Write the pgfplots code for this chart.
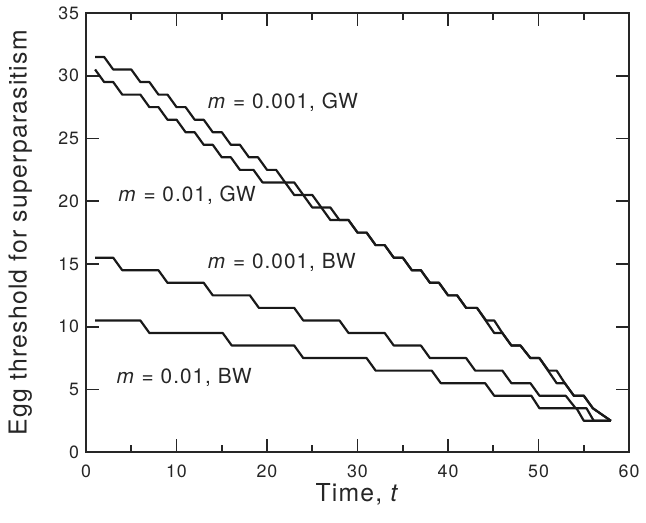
\documentclass[border=0pt]{standalone}
\usepackage{fontspec}
\setmainfont[LetterSpace=5]{TeX Gyre Heros}
\usepackage{pgfplots}
\pgfplotsset{compat=1.18}
\pgfplotsset{major tick length=6.5pt, minor tick length=3.5pt}
\usetikzlibrary{calc}
\begin{document}
\begin{tikzpicture}
\begin{axis}[name=ax, scale only axis, width=274.5pt, height=222pt,
  xmin=0, xmax=60, ymin=0, ymax=35,
  xtick={0,10,...,60}, minor xtick={5,15,...,55}, ytick={0,5,...,35},
  tick align=inside, xtick pos=both, ytick pos=both,
  xticklabel pos=lower, yticklabel pos=left,
  every tick/.style={line width=0.9pt, black!85},
  axis line style={line width=0.7pt, black!85},
  ticklabel style={font=\fontsize{9}{10}\selectfont, text=black!85},
  xticklabel style={yshift=-3pt},
  /pgf/number format/assume math mode=true,
  label style={font=\fontsize{12.5}{14}\selectfont, text=black!85},
  xlabel={Time, \textit{t}},
  ylabel={Egg threshold for superparasitism},
  xlabel style={at={(axis description cs:0.5,-0.1126)}, anchor=base},
  ylabel style={at={(axis description cs:-0.1093,0.5)}, anchor=base},
  cycle list={{black!90}},
  every axis plot/.append style={line width=1.1pt, line join=round},
  no markers,
]
% GW, m = 0.001
\addplot coordinates {(1,31.5) (2,31.5) (3,30.5) (5,30.5) (6,29.5) (7,29.5) (8,28.5) (9,28.5) (10,27.5) (11,27.5) (12,26.5) (13,26.5) (14,25.5) (15,25.5) (16,24.5) (17,24.5) (18,23.5) (19,23.5) (20,22.5) (21,22.5) (22,21.5) (23,21.5) (24,20.5) (25,20.5) (26,19.5) (27,19.5) (28,18.5) (29,18.5) (30,17.5) (31,17.5) (32,16.5) (33,16.5) (34,15.5) (35,15.5) (36,14.5) (37,14.5) (38,13.5) (39,13.5) (40,12.5) (41,12.5) (42,11.5) (43.2,11.5) (44.2,10.5) (45.1,10.5) (46,9.5) (47,8.5) (48,8.5) (49.1,7.5) (50.1,7.5) (51.1,6.5) (52,6.5) (52.9,5.5) (53.9,4.5) (55,4.5) (56,3.5) (58,2.5)};
% GW, m = 0.01
\addplot coordinates {(1,30.5) (2,29.5) (3,29.5) (4,28.5) (6,28.5) (7,27.5) (8,27.5) (9,26.5) (10,26.5) (11,25.5) (12,25.5) (13,24.5) (14,24.5) (15,23.5) (16,23.5) (17,22.5) (18.5,22.5) (19.5,21.5) (22,21.5) (23,20.5) (24,20.5) (25,19.5) (26,19.5) (27,18.5) (29,18.5) (30,17.5) (31,17.5) (32,16.5) (33,16.5) (34,15.5) (35,15.5) (36,14.5) (37,14.5) (38,13.5) (39,13.5) (40,12.5) (41,12.5) (42,11.5) (43.2,11.5) (45.1,9.5) (46,9.5) (47,8.5) (48,8.5) (49.1,7.5) (50.1,7.5) (52,5.5) (52.9,5.5) (53.9,4.5) (55,4.5) (56,3.5) (58,2.5)};
% BW, m = 0.001
\addplot coordinates {(1,15.5) (3,15.5) (4,14.5) (8,14.5) (9,13.5) (13,13.5) (14,12.5) (18.1,12.5) (19.1,11.5) (23,11.5) (24,10.5) (28,10.5) (29,9.5) (33,9.5) (34,8.5) (37,8.5) (38,7.5) (42,7.5) (43,6.5) (46,6.5) (47,5.5) (49.1,5.5) (50.1,4.5) (53,4.5) (54.1,3.5) (55.3,3.5) (56.1,2.5) (58,2.5)};
% BW, m = 0.01
\addplot coordinates {(1,10.5) (6,10.5) (7,9.5) (15.1,9.5) (16.1,8.5) (23,8.5) (24,7.5) (31,7.5) (32,6.5) (38.2,6.5) (39.2,5.5) (44.1,5.5) (45.1,4.5) (49.2,4.5) (50.1,3.5) (54.2,3.5) (55,2.5) (58,2.5)};
\node[anchor=base west, font=\fontsize{10.5}{12}\selectfont, text=black!85] at (axis cs:12.7,27.4) {\textit{m} = 0.001, GW};
\node[anchor=base west, font=\fontsize{10.5}{12}\selectfont, text=black!85] at (axis cs:2.8,20.0) {\textit{m} = 0.01, GW};
\node[anchor=base west, font=\fontsize{10.5}{12}\selectfont, text=black!85] at (axis cs:12.7,14.6) {\textit{m} = 0.001, BW};
\node[anchor=base west, font=\fontsize{10.5}{12}\selectfont, text=black!85] at (axis cs:2.6,5.5) {\textit{m} = 0.01, BW};
\end{axis}
\path ($(ax.south west)+(-43.5pt,-35.5pt)$) rectangle ($(ax.north east)+(5pt,5.5pt)$);
\end{tikzpicture}
\end{document}
